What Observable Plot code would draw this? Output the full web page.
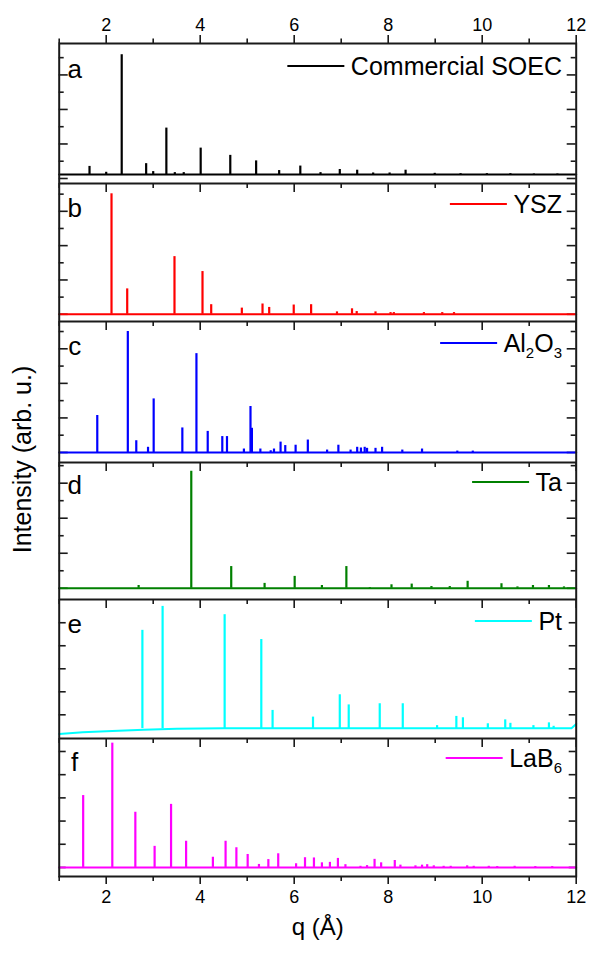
<!DOCTYPE html>
<html><head><meta charset="utf-8">
<script src="https://cdn.jsdelivr.net/npm/d3@7"></script>
<script src="https://cdn.jsdelivr.net/npm/@observablehq/plot@0.6"></script>
<style>
html,body{margin:0;padding:0;background:#fff;}
#chart{position:relative;width:589px;height:953px;overflow:hidden;}
#chart svg.panel{display:block;}
</style></head><body><div id="chart"></div>
<script>
const FONT = "Arial, 'Liberation Sans', Helvetica, sans-serif";
const xDomain = [1, 12];
const xMajorTicks = [2, 4, 6, 8, 10, 12];
const xMinorTicks = [1, 3, 5, 7, 9, 11];
const xTitle = "q (Å)";
const yTitle = "Intensity (arb. u.)";

// a: Commercial SOEC
const qSOEC = [1.645, 2.0, 2.33, 2.85, 3.0, 3.28, 3.46, 3.65, 4.01, 4.64, 5.19, 5.68, 6.13, 6.56, 6.97, 7.34, 7.68, 8.03, 8.37, 8.99, 9.54, 10.1, 10.6, 11.1, 11.6];
const hSOEC = [0.35, 0.18, 3.585, 0.43, 0.2, 1.46, 0.17, 0.17, 0.88, 0.67, 0.51, 0.23, 0.36, 0.17, 0.26, 0.24, 0.16, 0.16, 0.24, 0.15, 0.14, 0.14, 0.14, 0.13, 0.13];
const baseQSOEC = [1, 12];
const baseVSOEC = [0.116, 0.116];

// b: YSZ
const qYSZ = [2.113, 2.447, 3.453, 4.049, 4.234, 4.886, 5.326, 5.468, 5.99, 6.36, 6.91, 7.23, 7.33, 7.73, 8.05, 8.12, 8.76, 9.15, 9.4];
const hYSZ = [3.51, 0.74, 1.68, 1.245, 0.28, 0.18, 0.30, 0.20, 0.27, 0.28, 0.07, 0.16, 0.08, 0.07, 0.05, 0.05, 0.05, 0.05, 0.05];
const baseQYSZ = [1, 12];
const baseVYSZ = [0, 0];

// c: Al2O3
const qAl = [1.81, 2.46, 2.64, 2.89, 3.01, 3.62, 3.92, 4.16, 4.47, 4.57, 4.93, 5.07, 5.1, 5.28, 5.5, 5.57, 5.71, 5.81, 6.03, 6.29, 6.70, 6.94, 7.2, 7.34, 7.42, 7.5, 7.55, 7.73, 7.87, 8.3, 8.72, 9.47, 9.8];
const hAl = [1.07, 3.5, 0.34, 0.15, 1.55, 0.71, 2.86, 0.61, 0.46, 0.46, 0.1, 1.33, 0.7, 0.1, 0.05, 0.1, 0.3, 0.2, 0.21, 0.36, 0.07, 0.21, 0.07, 0.15, 0.13, 0.15, 0.12, 0.12, 0.15, 0.07, 0.1, 0.04, 0.04];
const baseQAl = [1, 12];
const baseVAl = [0, 0];

// d: Ta
const qTa = [2.69, 3.81, 4.66, 5.37, 6.01, 6.59, 7.11, 7.61, 8.07, 8.50, 8.92, 9.31, 9.69, 10.41, 10.75, 11.08, 11.42, 11.74];
const hTa = [0.08, 3.34, 0.62, 0.14, 0.34, 0.08, 0.62, 0.02, 0.1, 0.12, 0.05, 0.05, 0.2, 0.13, 0.04, 0.08, 0.08, 0.04];
const baseQTa = [1, 12];
const baseVTa = [0, 0];

// e: Pt
const qPt = [2.77, 3.20, 4.52, 5.30, 5.54, 6.40, 6.97, 7.16, 7.82, 8.31, 9.04, 9.45, 9.59, 10.12, 10.49, 10.6, 11.09, 11.42, 11.52];
const hPt = [4.67, 5.71, 5.35, 4.27, 1.19, 0.9, 1.87, 1.43, 1.48, 1.48, 0.53, 0.93, 0.87, 0.61, 0.78, 0.63, 0.53, 0.65, 0.5];
const baseQPt = [1, 1.5, 2, 2.8, 3.5, 4.5, 11.9, 12];
const baseVPt = [0.17, 0.24, 0.29, 0.35, 0.39, 0.42, 0.42, 0.6];

// f: LaB6
const qLaB = [1.51, 2.13, 2.62, 3.03, 3.38, 3.70, 4.27, 4.54, 4.77, 5.01, 5.25, 5.45, 5.66, 6.04, 6.23, 6.42, 6.59, 6.76, 6.93, 7.09, 7.41, 7.55, 7.71, 7.85, 8.14, 8.26, 8.58, 8.72, 8.83, 8.97, 9.18, 9.33, 9.68, 9.82, 10.14, 10.32, 10.69, 11.13, 11.49];
const hLaB = [3.10, 5.36, 2.38, 0.91, 2.72, 1.13, 0.44, 1.13, 0.85, 0.56, 0.13, 0.34, 0.59, 0.16, 0.42, 0.41, 0.2, 0.22, 0.39, 0.12, 0.05, 0.08, 0.35, 0.2, 0.3, 0.1, 0.07, 0.1, 0.12, 0.07, 0.05, 0.05, 0.07, 0.05, 0.05, 0.04, 0.05, 0.04, 0.04];
const baseQLaB = [1, 12];
const baseVLaB = [0, 0];

// y tick values (arb. u.) per panel
const yMajorAD = [0, 1, 2, 3];
const yMinorAD = [0.5, 1.5, 2.5, 3.5];
const yTicksE = [1, 2, 3, 4, 5];
const yTicksF = [0, 1, 2, 3, 4, 5];

const panels = [
  {letter: "a", legend: [["Commercial SOEC", 0]], color: "#000000", q: qSOEC, h: hSOEC, bq: baseQSOEC, bv: baseVSOEC, peakBase: 0.116,
   yDomain: [-0.145, 3.91], yMajor: yMajorAD, yMinor: yMinorAD, yMaj: 9, height: 183, mt: 43, mb: 0, top: "out", legY: 23, letY: 35},
  {letter: "b", legend: [["YSZ", 0]], color: "#ff0000", q: qYSZ, h: hYSZ, bq: baseQYSZ, bv: baseVYSZ, peakBase: 0,
   yDomain: [-0.21, 3.81], yMajor: yMajorAD, yMinor: yMinorAD, yMaj: 9, height: 138, mt: 0, mb: 0, legY: 21, letY: 34},
  {letter: "c", legend: [["Al", 0], ["2", 1], ["O", 0], ["3", 1]], color: "#0000ff", q: qAl, h: hAl, bq: baseQAl, bv: baseVAl, peakBase: 0,
   yDomain: [-0.29, 3.79], yMajor: yMajorAD, yMinor: yMinorAD, yMaj: 9, height: 141, mt: 0, mb: 0, legY: 22, letY: 34},
  {letter: "d", legend: [["Ta", 0]], color: "#008000", q: qTa, h: hTa, bq: baseQTa, bv: baseVTa, peakBase: 0,
   yDomain: [-0.32, 3.59], yMajor: yMajorAD, yMinor: yMinorAD, yMaj: 9, height: 137, mt: 0, mb: 0, legY: 20, letY: 31.5},
  {letter: "e", legend: [["Pt", 0]], color: "#00ffff", q: qPt, h: hPt, bq: baseQPt, bv: baseVPt, peakBase: 0.4,
   yDomain: [-0.03, 6.01], yMajor: yTicksE, yMinor: [], yMaj: 7, height: 139, mt: 0, mb: 0, legY: 22, letY: 33.5},
  {letter: "f", legend: [["LaB", 0], ["6", 1]], color: "#ff00ff", q: qLaB, h: hLaB, bq: baseQLaB, bv: baseVLaB, peakBase: 0,
   yDomain: [-0.39, 5.56], yMajor: yTicksF, yMinor: [], yMaj: 7, height: 215, mt: 0, mb: 77, bottom: "out", legY: 20, letY: 33}
];

const chart = document.getElementById("chart");
const W = 589, ML = 58.7, MR = 13.3, innerW = W - ML - MR;
const AX = "#1a1a1a";
const ns = "http://www.w3.org/2000/svg";

panels.forEach(p => {
  const innerH = p.height - p.mt - p.mb;
  const peaks = p.q.map((q, k) => ({q, h: p.h[k]}));
  const base = p.bq.map((q, k) => ({q, v: p.bv[k]}));
  const marks = [
    Plot.ruleY(p.yMajor, {y: d => d, insetRight: innerW - p.yMaj, stroke: AX, strokeWidth: 1.6}),
    Plot.ruleY(p.yMajor, {y: d => d, insetLeft: innerW - p.yMaj, stroke: AX, strokeWidth: 1.6}),
    Plot.ruleY(p.yMinor, {y: d => d, insetRight: innerW - 5, stroke: AX, strokeWidth: 1.6}),
    Plot.ruleY(p.yMinor, {y: d => d, insetLeft: innerW - 5, stroke: AX, strokeWidth: 1.6}),
    Plot.line(base, {x: "q", y: "v", stroke: p.color, strokeWidth: 2}),
    Plot.ruleX(peaks, {x: "q", y1: p.peakBase, y2: "h", stroke: p.color, strokeWidth: 2.2}),
    Plot.frame({stroke: AX, strokeWidth: 2})
  ];
  if (p.top === "out") {
    marks.push(Plot.ruleX(xMajorTicks, {x: d => d, insetTop: -8, insetBottom: innerH, stroke: AX, strokeWidth: 1.6}));
    marks.push(Plot.ruleX(xMinorTicks, {x: d => d, insetTop: -4.5, insetBottom: innerH, stroke: AX, strokeWidth: 1.6}));
    marks.push(Plot.text(xMajorTicks, {x: d => d, text: d => String(d), frameAnchor: "top", dy: -25.5, fontSize: 18, fill: "#000"}));
  } else {
    marks.push(Plot.ruleX(xMajorTicks, {x: d => d, insetBottom: innerH - 9, stroke: AX, strokeWidth: 1.6}));
    marks.push(Plot.ruleX(xMinorTicks, {x: d => d, insetBottom: innerH - 5, stroke: AX, strokeWidth: 1.6}));
  }
  if (p.bottom === "out") {
    marks.push(Plot.ruleX(xMajorTicks, {x: d => d, insetTop: innerH, insetBottom: -8, stroke: AX, strokeWidth: 1.6}));
    marks.push(Plot.ruleX(xMinorTicks, {x: d => d, insetTop: innerH, insetBottom: -5, stroke: AX, strokeWidth: 1.6}));
    marks.push(Plot.text(xMajorTicks, {x: d => d, text: d => String(d), frameAnchor: "bottom", dy: 26.5, fontSize: 18, fill: "#000"}));
    marks.push(Plot.text([xTitle], {text: d => d, frameAnchor: "bottom", dy: 58, fontSize: 24, fill: "#000"}));
  }
  const svg = Plot.plot({
    width: W, height: p.height,
    marginLeft: ML, marginRight: MR, marginTop: p.mt, marginBottom: p.mb,
    x: {domain: xDomain, axis: null},
    y: {domain: p.yDomain, axis: null},
    style: {fontFamily: FONT, background: "white", color: "#000"},
    marks
  });
  svg.classList.add("panel");
  chart.appendChild(svg);

  // panel letter
  const lt = document.createElementNS(ns, "text");
  lt.setAttribute("x", ML + 16);
  lt.setAttribute("y", p.mt + p.letY);
  lt.setAttribute("font-size", 26);
  lt.setAttribute("font-family", FONT);
  lt.setAttribute("fill", "#000");
  lt.textContent = p.letter;
  svg.appendChild(lt);

  // legend
  const ly = p.mt + p.legY;
  const t = document.createElementNS(ns, "text");
  t.setAttribute("x", 562);
  t.setAttribute("y", ly + 9);
  t.setAttribute("font-size", 25);
  t.setAttribute("font-family", FONT);
  t.setAttribute("text-anchor", "end");
  t.setAttribute("fill", "#000");
  let sub = 0;
  p.legend.forEach(([s, isSub]) => {
    const ts = document.createElementNS(ns, "tspan");
    ts.textContent = s;
    if (isSub && !sub) { ts.setAttribute("dy", 6); ts.setAttribute("font-size", 15); sub = 1; }
    else if (isSub) { ts.setAttribute("font-size", 15); }
    else if (!isSub && sub) { ts.setAttribute("dy", -6); sub = 0; }
    t.appendChild(ts);
  });
  svg.appendChild(t);
  const w = t.getComputedTextLength();
  const x1 = 562 - w - 6.5, x0 = x1 - 57;
  const ln = document.createElementNS(ns, "line");
  ln.setAttribute("x1", x0); ln.setAttribute("x2", x1);
  ln.setAttribute("y1", ly); ln.setAttribute("y2", ly);
  ln.setAttribute("stroke", p.color); ln.setAttribute("stroke-width", 2);
  svg.appendChild(ln);
});

// y-axis title overlay spanning all panels
const ov = document.createElementNS(ns, "svg");
ov.setAttribute("width", W); ov.setAttribute("height", 953);
ov.style.position = "absolute"; ov.style.left = "0"; ov.style.top = "0"; ov.style.pointerEvents = "none";
const yt = document.createElementNS(ns, "text");
yt.setAttribute("transform", "translate(22,459.5) rotate(-90)");
yt.setAttribute("text-anchor", "middle");
yt.setAttribute("dominant-baseline", "central");
yt.setAttribute("font-size", 25);
yt.setAttribute("font-family", FONT);
yt.setAttribute("fill", "#000");
yt.textContent = yTitle;
ov.appendChild(yt);
chart.appendChild(ov);
</script></body></html>
